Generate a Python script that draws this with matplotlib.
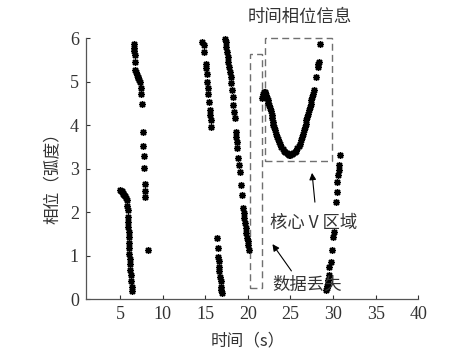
import matplotlib
matplotlib.use("Agg")
import matplotlib.pyplot as plt
from matplotlib.patches import Rectangle
import numpy as np

# 各区間の位相データ
seg_a_t = [5.0, 5.1, 5.2, 5.3, 5.4, 5.5, 5.6, 5.7, 5.8, 5.87, 5.9, 5.93, 5.96, 5.98,
           6.0, 6.02, 6.05, 6.08, 6.1, 6.13, 6.16, 6.2, 6.25, 6.3, 6.37, 6.43]
seg_a_p = [2.52, 2.50, 2.48, 2.45, 2.43, 2.40, 2.37, 2.33, 2.28, 2.15, 2.05, 1.90, 1.78, 1.66,
           1.55, 1.44, 1.30, 1.17, 1.05, 0.92, 0.80, 0.68, 0.56, 0.42, 0.28, 0.18]

seg_b_t = [6.62, 6.65, 6.68, 6.70, 6.72, 6.75, 6.85, 6.95, 7.05, 7.15, 7.25, 7.35, 7.43,
           7.47, 7.52, 7.68, 7.73, 7.77, 7.82, 7.88, 7.92, 7.96, 8.27]
seg_b_p = [5.88, 5.78, 5.70, 5.62, 5.46, 5.28, 5.22, 5.16, 5.12, 5.08, 5.04, 5.00, 4.85,
           4.73, 4.50, 3.85, 3.52, 3.30, 3.01, 2.66, 2.48, 2.36, 1.13]

seg_c_t = [14.67, 14.8, 14.86, 15.05, 15.13, 15.17, 15.25, 15.33, 15.37, 15.45, 15.52, 15.60, 15.64, 15.72]
seg_c_p = [5.92, 5.85, 5.69, 5.42, 5.31, 5.19, 5.00, 4.85, 4.73, 4.54, 4.35, 4.24, 4.12, 3.97]

seg_d_t = [16.38, 16.45, 16.5, 16.57, 16.63, 16.67, 16.74, 16.8, 16.85, 16.9, 16.96]
seg_d_p = [1.40, 1.17, 0.98, 0.87, 0.75, 0.64, 0.52, 0.41, 0.29, 0.21, 0.14]

seg_e_t = [17.32, 17.4, 17.48, 17.55, 17.63, 17.71, 17.79, 17.9, 17.98, 18.06, 18.1, 18.26,
           18.29, 18.37, 18.45, 18.57, 18.65, 18.69, 18.76, 18.84, 18.96, 19.04, 19.16, 19.35,
           19.43, 19.55, 19.59, 19.66, 19.74, 19.82, 19.9, 19.98, 20.06, 20.15]
seg_e_p = [5.98, 5.92, 5.81, 5.69, 5.58, 5.46, 5.35, 5.23, 5.12, 4.97, 4.81, 4.66,
           4.47, 4.31, 4.16, 3.85, 3.74, 3.62, 3.47, 3.24, 3.09, 2.93, 2.63, 2.40,
           2.09, 1.98, 1.86, 1.75, 1.63, 1.52, 1.40, 1.33, 1.25, 1.13]

# 核心V区域
seg_v_t = [21.7, 21.8, 21.9, 21.97, 22.07, 22.16, 22.26, 22.36, 22.42, 22.48, 22.58, 22.68,
           22.78, 22.87, 22.93, 22.98, 23.06, 23.14, 23.25, 23.37, 23.5, 23.65, 23.78, 23.92,
           24.08, 24.23, 24.4, 24.55, 24.7, 24.86, 25.0, 25.17, 25.33, 25.49, 25.65, 25.8,
           25.95, 26.11, 26.25, 26.39, 26.48, 26.58, 26.68, 26.78, 26.88, 26.97, 27.07, 27.17,
           27.26, 27.36, 27.46, 27.56, 27.66, 27.76, 28.03, 28.23, 28.28, 28.34, 28.46]
seg_v_p = [4.62, 4.73, 4.76, 4.77, 4.74, 4.69, 4.63, 4.58, 4.52, 4.47, 4.40, 4.32,
           4.24, 4.16, 4.08, 4.01, 3.95, 3.89, 3.81, 3.74, 3.68, 3.62, 3.56, 3.51,
           3.46, 3.42, 3.39, 3.36, 3.34, 3.32, 3.32, 3.34, 3.36, 3.38, 3.42, 3.47,
           3.52, 3.58, 3.66, 3.74, 3.81, 3.89, 3.96, 4.04, 4.12, 4.20, 4.27, 4.35,
           4.42, 4.50, 4.58, 4.66, 4.73, 4.81, 5.12, 5.35, 5.40, 5.46, 5.88]

seg_g_t = [29.2, 29.25, 29.3, 29.35, 29.4, 29.5, 29.58, 29.75, 29.82, 30.05, 30.12,
           30.35, 30.45, 30.52, 30.58, 30.65, 30.72, 30.8]
seg_g_p = [0.22, 0.27, 0.31, 0.37, 0.44, 0.56, 0.75, 0.86, 1.13, 1.44, 1.55,
           2.24, 2.47, 2.70, 2.86, 2.97, 3.09, 3.32]

xticks = [5, 10, 15, 20, 25, 30, 35, 40]
yticks = [0, 1, 2, 3, 4, 5, 6]

cjk = ["Noto Sans CJK SC", "DejaVu Sans"]
serif = "Liberation Serif"

fig = plt.figure(figsize=(4.5, 3.55), dpi=100)
ax = fig.add_axes([0.191, 0.157, 0.7385, 0.735])

# MATLAB風のアスタリスク
for t, p in [(seg_a_t, seg_a_p), (seg_b_t, seg_b_p), (seg_c_t, seg_c_p), (seg_d_t, seg_d_p),
             (seg_e_t, seg_e_p), (seg_v_t, seg_v_p), (seg_g_t, seg_g_p)]:
    ax.plot(t, p, linestyle="none", marker=(8, 2, 0), markersize=5, color="k",
            markeredgewidth=1.0, clip_on=False)

ax.set_xlim(1, 40)
ax.set_ylim(0, 6)
ax.set_xticks(xticks)
ax.set_yticks(yticks)
ax.tick_params(direction="in", length=3, width=0.8, labelsize=13, pad=5, colors="#333333")
for lab in ax.get_xticklabels() + ax.get_yticklabels():
    lab.set_fontfamily(serif)
ax.spines["top"].set_visible(False)
ax.spines["right"].set_visible(False)
for s in ["left", "bottom"]:
    ax.spines[s].set_color("#555555")
    ax.spines[s].set_linewidth(0.9)

ax.set_xlabel("时间（s）", family=cjk, fontsize=12, color="#333333")
ax.xaxis.set_label_coords(0.487, -0.128)
ax.set_ylabel("相位（弧度）", family=cjk, fontsize=12, color="#333333")
ax.yaxis.set_label_coords(-0.075, 0.48)

fig.text(0.667, 0.952, "时间相位信息", family=cjk, fontsize=12.5, ha="center", va="center",
         color="#333333")

# 破線の枠
ax.add_patch(Rectangle((20.26, 0.26), 21.63 - 20.26, 5.64 - 0.26, fill=False,
                       edgecolor="#707070", linestyle=(0, (5, 3)), linewidth=1.0, clip_on=False))
ax.add_patch(Rectangle((22.02, 3.17), 29.92 - 22.02, 6.0 - 3.17, fill=False,
                       edgecolor="#707070", linestyle=(0, (5, 3)), linewidth=1.0, clip_on=False))

ax.annotate("", xy=(27.5, 2.97), xytext=(27.9, 2.17),
            arrowprops=dict(arrowstyle="-|>", color="k", lw=0.8, mutation_scale=10))
ax.annotate("", xy=(22.7, 1.32), xytext=(25.3, 0.6),
            arrowprops=dict(arrowstyle="-|>", color="k", lw=0.8, mutation_scale=10))

ax.text(22.6, 1.75, "核心 V 区域", family=cjk, fontsize=12.5, va="center", ha="left",
        color="#333333")
ax.text(22.84, 0.33, "数据丢失", family=cjk, fontsize=12.5, va="center", ha="left",
        color="#333333")

fig.savefig("out.png", dpi=100)
